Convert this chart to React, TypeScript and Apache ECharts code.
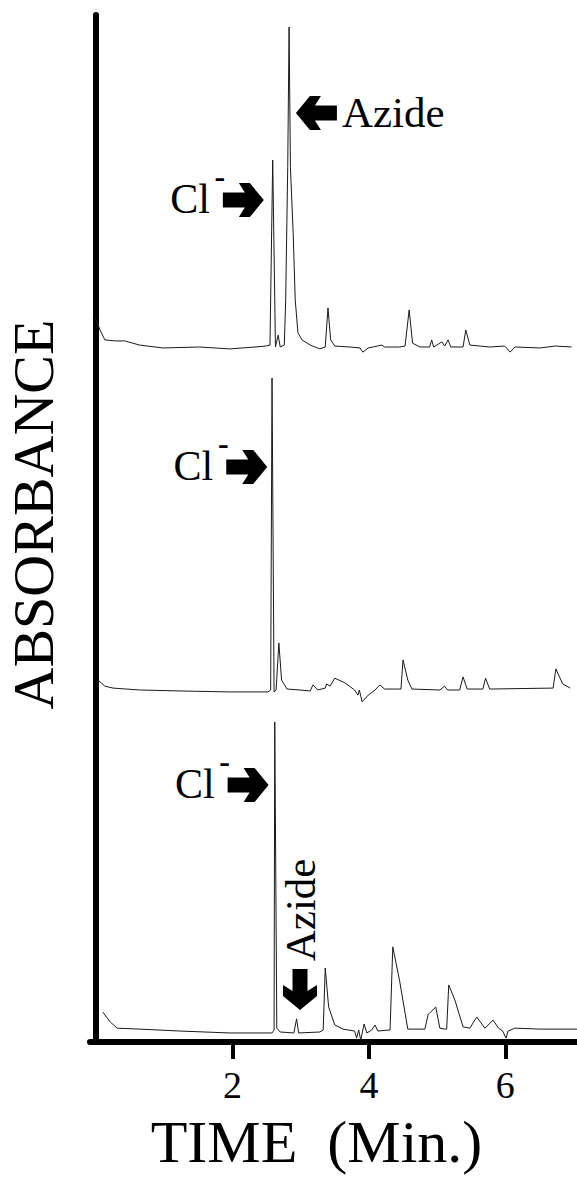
import React, { useEffect, useRef } from "react";
import * as echarts from "echarts";

const FONT = '"Liberation Serif", "Times New Roman", Times, serif';

// x axis (retention time, min)
const xMin = -0.088;
const xMax = 7.05;
const xTickValues = [2, 4, 6];

// Trace 1 (top): sample spiked with azide
const topTime = [-0.01, 0.06, 0.13, 0.28, 0.42, 0.64, 0.98, 1.52, 1.96, 2.33, 2.49, 2.55, 2.59, 2.63, 2.67, 2.7, 2.76, 2.78, 2.81, 2.83, 2.85, 2.89, 2.92, 2.96, 3.02, 3.14, 3.28, 3.36, 3.4, 3.44, 3.5, 3.72, 3.87, 3.91, 3.99, 4.19, 4.23, 4.45, 4.53, 4.59, 4.64, 4.75, 4.89, 4.92, 4.95, 5.07, 5.11, 5.16, 5.2, 5.38, 5.42, 5.48, 5.77, 5.99, 6.07, 6.14, 6.51, 6.73, 6.97];
const topAbs = [9.1, 5.3, 2.2, 1.9, 1.9, 0.6, -0.3, 0, -0.6, 0, 0.3, 0.6, 58.4, 0, 3.7, 0, 0.6, 14.7, 56, 100, 56, 35.6, 14.7, 4.4, 2.2, 0.6, -0.6, 0, 12.2, 2.2, 0.3, 0, -0.3, -1.6, -0.3, 0.6, 0, 0, 0.3, 11.6, 1.2, 0, 0, 2.2, 0, 1.6, 0.3, 2.2, 0, 0, 5.3, 0.6, 0, 0.3, -1.6, 0, -0.3, 0.3, 0];

// Trace 2 (middle): blank
const midTime = [0.03, 0.13, 0.25, 0.64, 1.23, 1.96, 2.52, 2.56, 2.58, 2.61, 2.64, 2.68, 2.72, 2.8, 2.99, 3.14, 3.18, 3.25, 3.36, 3.38, 3.43, 3.5, 3.65, 3.79, 3.84, 3.86, 3.9, 3.99, 4.09, 4.16, 4.23, 4.42, 4.47, 4.5, 4.57, 4.63, 5.04, 5.11, 5.15, 5.33, 5.38, 5.44, 5.67, 5.71, 5.77, 6.7, 6.74, 6.84, 6.95];
const midAbs = [3.1, 1.2, 0.6, 0, -0.3, -0.6, -0.6, 0, 97.5, -0.6, 0, 14.7, 3.1, 0.3, 0, -0.3, 1.6, 0, 0.6, 1.9, 1.2, 3.7, 2.2, 0, -1.6, 0, -3.7, -1.6, 0, 1.6, 0.3, 0.3, 0.3, 9.4, 3.1, 0.3, 0, 1.2, 0, 0, 4.1, 0.3, 0.3, 3.7, 0.3, 0.6, 6.6, 1.9, 0.6];

// Trace 3 (bottom): sample
const botTime = [0.1, 0.21, 0.31, 0.64, 1.23, 1.96, 2.58, 2.61, 2.62, 2.65, 2.7, 2.9, 2.94, 2.97, 3.28, 3.33, 3.36, 3.41, 3.5, 3.62, 3.79, 3.82, 3.85, 3.88, 3.93, 3.97, 4.04, 4.09, 4.13, 4.28, 4.31, 4.35, 4.45, 4.57, 4.82, 4.87, 4.89, 4.98, 5.04, 5.11, 5.14, 5.17, 5.26, 5.38, 5.48, 5.58, 5.7, 5.82, 5.9, 5.96, 6.01, 6.04, 6.14, 6.51, 7.05];
const botAbs = [6.2, 3.1, 1.2, 0.9, 0.3, -0.3, -0.3, 0.6, 96.9, 1.2, 0, -0.3, 4.1, -0.3, 0, 0.6, 20, 7.8, 2.2, 0.9, 0.3, -1.9, 0.6, -2.5, 2.5, -0.3, 0.6, 2.2, 0.3, 0.6, 0.6, 26.6, 16, 0.9, 0.9, 5.6, 5.9, 7.8, 1.2, 0.9, 0.9, 14.7, 10, 1.6, 1.2, 4.7, 1.2, 3.7, 1.2, 0.3, -1.9, 0.3, 1.2, 0.9, 0.9];

const traces = [
  { time: topTime, abs: topAbs },
  { time: midTime, abs: midAbs },
  { time: botTime, abs: botAbs },
];

// Peak annotations: trace index, arrow tip in data coords, arrow direction, label
const annTrace = [0, 0, 1, 2, 2];
const annTime = [2.46, 2.93, 2.51, 2.53, 2.99];
const annAbs = [45.9, 73.1, 69.7, 77.2, 6.9];
const annDir = ["right", "left", "right", "right", "down"];
const annLabel = ["Cl", "Azide", "Cl", "Cl", "Azide"];

const arrowShape: number[][] = [
  [-41, -7.5], [-19, -7.5], [-25, -17], [-14, -17], [0, 0],
  [-14, 17], [-25, 17], [-19, 7.5], [-41, 7.5],
];

function arrowPoints(x: number, y: number, dir: string) {
  return arrowShape.map(([px, py]) => {
    if (dir === "left") return [x - px, y + py];
    if (dir === "down") return [x - py, y + px];
    return [x + px, y + py];
  });
}

export default function App() {
  const ref = useRef<HTMLDivElement>(null);
  useEffect(() => {
    if (!ref.current) return;
    const chart = echarts.init(ref.current, null, { renderer: "svg" });
    const traceGrids = [
      { left: 90, right: 0, top: 11, bottom: 816, outerBoundsMode: "none" },
      { left: 90, right: 0, top: 354, bottom: 473, outerBoundsMode: "none" },
      { left: 90, right: 0, top: 696, bottom: 131, outerBoundsMode: "none" },
    ];
    const option: any = {
      animation: false,
      backgroundColor: "#ffffff",
      grid: [{ left: 90, right: 0, top: 15, bottom: 153, outerBoundsMode: "none", containLabel: false }, ...traceGrids],
      xAxis: [
        {
          type: "value",
          gridIndex: 0,
          min: xMin,
          max: xMax,
          name: "TIME  (Min.)",
          nameLocation: "middle",
          nameGap: 70,
          nameTextStyle: { fontFamily: FONT, fontSize: 60, color: "#000", padding: [0, 34, 0, 0] },
          axisLine: { show: true, lineStyle: { color: "#000", width: 6 } },
          axisTick: { show: true, customValues: xTickValues, length: 17, lineStyle: { color: "#000", width: 4 } },
          axisLabel: { show: true, customValues: xTickValues, fontFamily: FONT, fontSize: 38, color: "#000", margin: 24 },
          splitLine: { show: false },
        },
        ...traceGrids.map((_, i) => ({
          type: "value",
          gridIndex: i + 1,
          min: xMin,
          max: xMax,
          show: false,
        })),
      ],
      yAxis: [
        {
          type: "value",
          gridIndex: 0,
          min: 0,
          max: 1,
          name: "ABSORBANCE",
          nameLocation: "middle",
          nameRotate: 90,
          nameGap: 28,
          nameTextStyle: { fontFamily: FONT, fontSize: 58, color: "#000", padding: [0, 0, 0, 28] },
          axisLine: { show: true, lineStyle: { color: "#000", width: 6 } },
          axisTick: { show: false },
          axisLabel: { show: false },
          splitLine: { show: false },
        },
        ...traceGrids.map((_, i) => ({
          type: "value",
          gridIndex: i + 1,
          min: -10,
          max: 105,
          show: false,
        })),
      ],
      series: traces.map((tr, i) => ({
        type: "line",
        xAxisIndex: i + 1,
        yAxisIndex: i + 1,
        data: tr.time.map((t, k) => [t, tr.abs[k]]),
        showSymbol: false,
        symbol: "none",
        silent: true,
        lineStyle: { color: "#1a1a1a", width: 1 },
      })),
    };
    chart.setOption(option);

    const graphics: any[] = [];
    annLabel.forEach((label, i) => {
      const p = chart.convertToPixel({ gridIndex: annTrace[i] + 1 }, [annTime[i], annAbs[i]]) as number[];
      const [x, y] = p;
      const dir = annDir[i];
      graphics.push({ type: "polygon", silent: true, shape: { points: arrowPoints(x, y, dir) }, style: { fill: "#000" } });
      if (dir === "right") {
        graphics.push({ type: "text", silent: true, x: x - 54, y: y - 1, style: { text: label, font: `42px ${FONT}`, fill: "#000", align: "right", verticalAlign: "middle" } });
        graphics.push({ type: "text", silent: true, x: x - 44, y: y - 24, style: { text: "-", font: `bold 32px ${FONT}`, fill: "#000", align: "center", verticalAlign: "middle" } });
      } else if (dir === "left") {
        graphics.push({ type: "text", silent: true, x: x + 46, y: y - 1, style: { text: label, font: `43px ${FONT}`, fill: "#000", align: "left", verticalAlign: "middle" } });
      } else {
        graphics.push({ type: "text", silent: true, x: x, y: y - 100, rotation: Math.PI / 2, style: { text: label, font: `43px ${FONT}`, fill: "#000", align: "center", verticalAlign: "middle" } });
      }
    });
    chart.setOption({ graphic: graphics });

    return () => chart.dispose();
  }, []);
  return <div ref={ref} style={{ position: "absolute", left: 0, top: 0, width: 577, height: 1195 }} />;
}
